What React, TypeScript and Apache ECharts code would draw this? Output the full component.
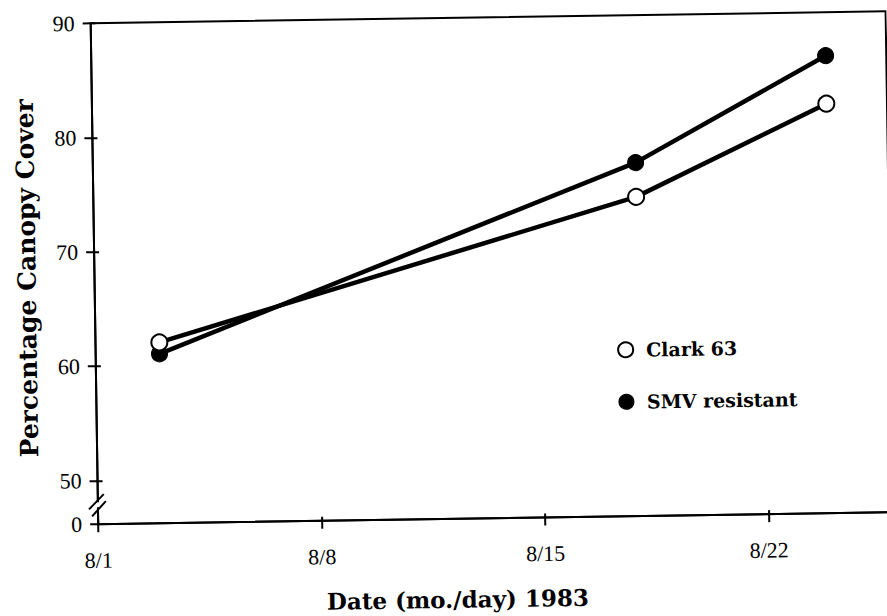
import React, { useEffect, useRef } from "react";
import * as echarts from "echarts";

// sample dates as days after 8/1 (8/3, 8/18, 8/24)
const sampleDays = [2, 17, 23];
const clark63 = [62.0, 74.1, 82.0];
const smvResistant = [61.0, 77.1, 86.2];
const xTickLabels = ["8/1", "8/8", "8/15", "8/22"];
const yBreakMin = 46.18; // shown as "0" below the axis break
const yTickValues = [yBreakMin, 50, 60, 70, 80, 90];
const yTickLabels = ["0", "50", "60", "70", "80", "90"];
const seriesNames = ["Clark 63", "SMV resistant"];

const serif = "'Liberation Serif', 'Times New Roman', serif";
const boldSerif = "'DejaVu Serif', 'Liberation Serif', serif";

export default function App() {
  const ref = useRef<HTMLDivElement>(null);
  useEffect(() => {
    if (!ref.current) return;
    const chart = echarts.init(ref.current, null, { renderer: "svg" });
    const xBase = {
      type: "value",
      min: 0,
      max: 24.9,
      interval: 7,
      splitLine: { show: false },
    };
    const yBase = {
      type: "value",
      min: yBreakMin,
      max: 90,
      splitLine: { show: false },
    };
    const tickStyle = { color: "#000", width: 2 };
    chart.setOption({
      animation: false,
      grid: {
        left: 99,
        right: 1,
        top: 18,
        bottom: 93,
        show: true,
        borderColor: "#000",
        borderWidth: 2,
      },
      xAxis: [
        {
          ...xBase,
          axisLine: { show: true, lineStyle: { color: "#000", width: 2 } },
          axisTick: { show: true, inside: false, length: 8, lineStyle: tickStyle },
          axisLabel: {
            margin: 25,
            color: "#000",
            fontFamily: serif,
            fontSize: 22,
            showMaxLabel: false,
            formatter: (v: number) => {
              const i = Math.round(v / 7);
              return Math.abs(v - i * 7) < 1e-6 && i < xTickLabels.length ? xTickLabels[i] : "";
            },
          },
          name: "Date (mo./day) 1983",
          nameLocation: "middle",
          nameGap: 69,
          nameTextStyle: {
            color: "#000",
            fontFamily: boldSerif,
            fontSize: 23,
            fontWeight: "bold",
            padding: [0, 78, 0, 0],
          },
        },
        {
          ...xBase,
          position: "bottom",
          axisLine: { show: false },
          axisTick: { show: true, inside: true, length: 4, lineStyle: tickStyle },
          axisLabel: { show: false },
        },
      ],
      yAxis: [
        {
          ...yBase,
          axisLine: { show: true, lineStyle: { color: "#000", width: 2 } },
          axisTick: {
            show: true,
            inside: false,
            length: 8,
            customValues: yTickValues,
            lineStyle: tickStyle,
          },
          axisLabel: {
            margin: 16,
            color: "#000",
            fontFamily: serif,
            fontSize: 22,
            customValues: yTickValues,
            formatter: (v: number) => {
              const i = yTickValues.findIndex((t) => Math.abs(t - v) < 1e-6);
              return i >= 0 ? yTickLabels[i] : "";
            },
          },
          name: "Percentage Canopy Cover",
          nameLocation: "middle",
          nameGap: 55,
          nameTextStyle: {
            color: "#000",
            fontFamily: boldSerif,
            fontSize: 25,
            fontWeight: "bold",
            padding: [0, 7, 0, 0],
          },
        },
        {
          ...yBase,
          position: "left",
          axisLine: { show: false },
          axisTick: {
            show: true,
            inside: true,
            length: 5,
            customValues: yTickValues.slice(1),
            lineStyle: tickStyle,
          },
          axisLabel: { show: false },
        },
      ],
      legend: {
        orient: "vertical",
        left: 615.5,
        top: 338,
        itemWidth: 15,
        itemHeight: 15,
        itemGap: 33,
        icon: "circle",
        textStyle: {
          color: "#000",
          fontFamily: boldSerif,
          fontSize: 19,
          fontWeight: "bold",
          padding: [0, 0, 0, 8],
        },
        data: [
          { name: seriesNames[0], itemStyle: { color: "#fff", borderColor: "#000", borderWidth: 2 } },
          { name: seriesNames[1], itemStyle: { color: "#000", borderColor: "#000", borderWidth: 1 } },
        ],
      },
      series: [
        {
          name: seriesNames[1],
          type: "line",
          data: sampleDays.map((d, i) => [d, smvResistant[i]]),
          symbol: "circle",
          symbolSize: 16,
          lineStyle: { color: "#000", width: 4.5 },
          itemStyle: { color: "#000", borderColor: "#000", borderWidth: 1 },
          z: 2,
        },
        {
          name: seriesNames[0],
          type: "line",
          data: sampleDays.map((d, i) => [d, clark63[i]]),
          symbol: "circle",
          symbolSize: 16,
          lineStyle: { color: "#000", width: 4.5 },
          itemStyle: { color: "#fff", borderColor: "#000", borderWidth: 2 },
          z: 3,
        },
      ],
    });

    // axis break mark ("//") on the y axis, placed relative to the axis origin
    const p = chart.convertToPixel({ xAxisIndex: 0, yAxisIndex: 0 }, [0, yBreakMin]) as number[];
    if (p) {
      const [x0, y0] = p;
      chart.setOption({
        graphic: [
          { type: "rect", shape: { x: x0 - 3, y: y0 - 22, width: 6, height: 5 }, style: { fill: "#fff" }, z: 100 },
          { type: "line", shape: { x1: x0 - 9, y1: y0 - 15, x2: x0 + 6, y2: y0 - 30 }, style: { stroke: "#000", lineWidth: 2 }, z: 101 },
          { type: "line", shape: { x1: x0 - 6, y1: y0 - 8, x2: x0 + 8, y2: y0 - 23 }, style: { stroke: "#000", lineWidth: 2 }, z: 101 },
        ],
      });
    }
    return () => chart.dispose();
  }, []);
  return (
    <div
      style={{
        position: "fixed",
        left: 0,
        top: 0,
        width: 887,
        height: 616,
        overflow: "hidden",
        background: "#fff",
      }}
    >
      <div
        ref={ref}
        style={{
          position: "absolute",
          left: -4,
          top: 0,
          width: 895,
          height: 616,
          transform: "rotate(-0.86deg)",
        }}
      />
    </div>
  );
}
